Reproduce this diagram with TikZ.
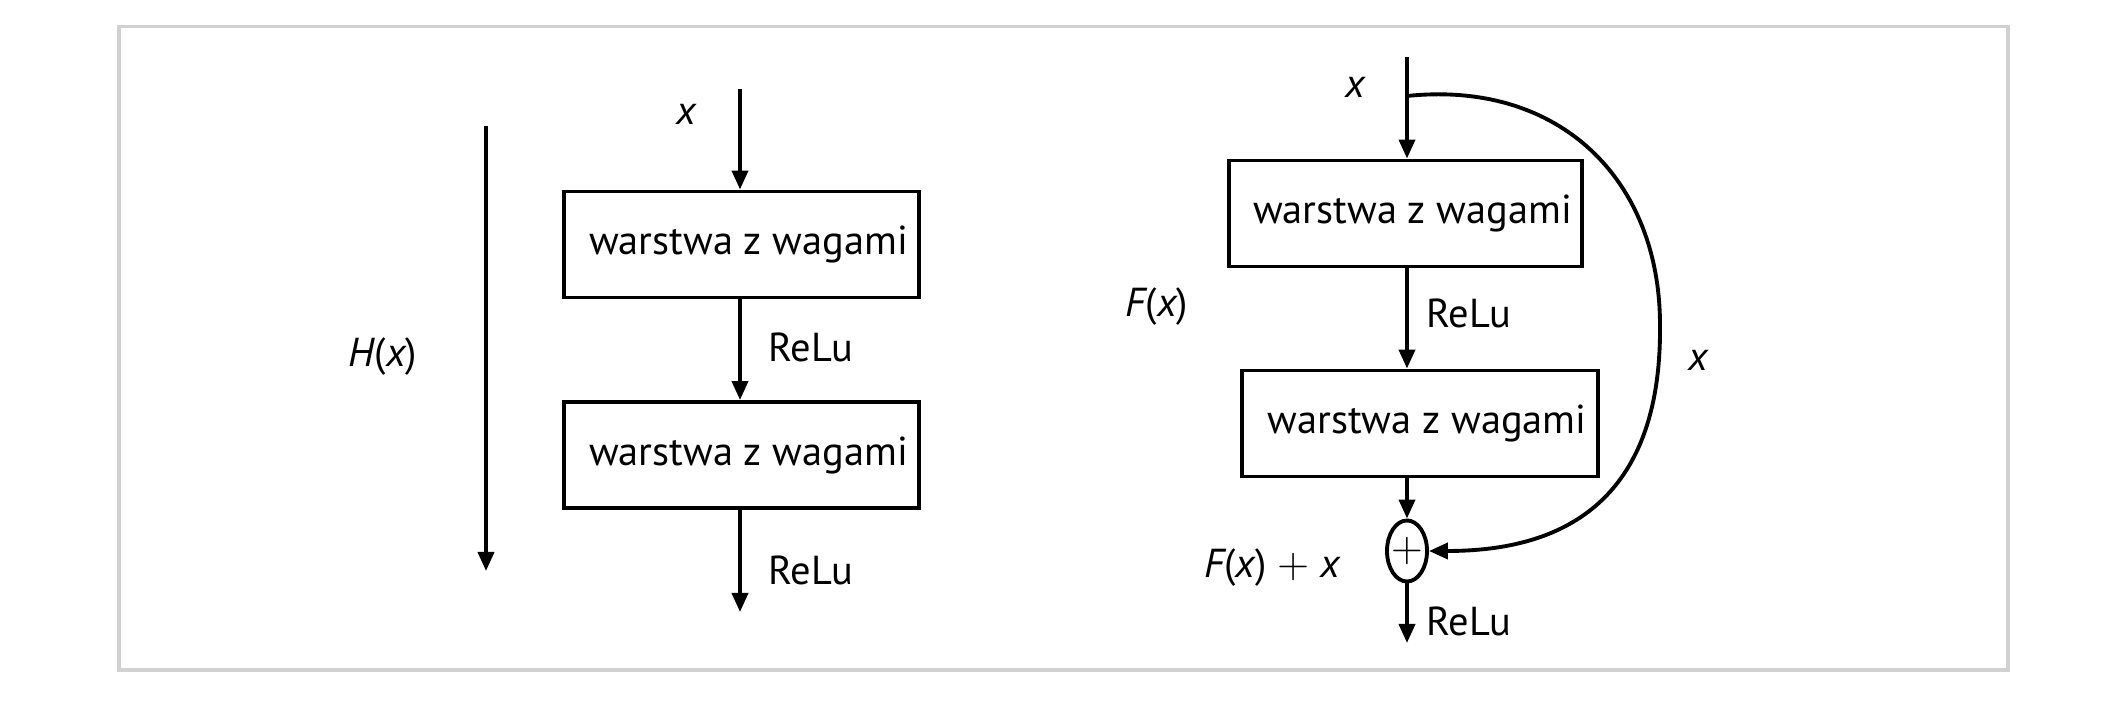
\documentclass[tikz,border=0pt]{standalone}
\usepackage{fontspec}
\setmainfont{PT Sans}
\usetikzlibrary{arrows.meta}
\usetikzlibrary{positioning}
\usetikzlibrary{shapes.geometric}
\tikzset{warstwa/.style = {draw, line width=1.1pt, minimum width=3.55cm,
                           minimum height=1.06cm, inner sep=0pt},
         strz/.style = {line width=1.1pt,
                        -{Triangle[length=0.19cm, width=0.16cm]}},
         opis/.style = {inner sep=0pt}}
\definecolor{ramka}{rgb}{0.82, 0.82, 0.82}

\begin{document}
\begin{tikzpicture}[x=0.01cm, y=-0.01cm, font=\fontsize{11.5}{13}\selectfont]
    \useasboundingbox (0, 0) rectangle (2117, 707);
    \draw [ramka, line width=1pt] (119, 26.5) rectangle (2008, 670);

    % zwykla siec
    \coordinate (lwe) at (740, 89);
    \node [warstwa] (l1) at (741.5, 244.5) {\hspace*{4pt}warstwa z wagami};
    \node [warstwa] (l2) at (741.5, 455) {\hspace*{4pt}warstwa z wagami};
    \coordinate (lwy) at (740, 612);
    \draw [strz] (lwe) -- (l1.north -| lwe);
    \draw [strz] (l1.south -| lwe) -- (l2.north -| lwe);
    \draw [strz] (l2.south -| lwe) -- (lwy);
    \node [opis] (lx) at (686, 114) {\itshape x};
    \node [opis, anchor=west] (lr1) at (768, 347) {ReLu};
    \node [opis, anchor=west] (lr2) at (768, 570) {ReLu};

    \coordinate (hg) at (486, 126);
    \coordinate (hd) at (486, 571);
    \draw [strz] (hg) -- (hd);
    \node [opis] (hx) at (383, 357) {\itshape H\upshape(\itshape x\upshape)};

    % blok rezydualny
    \coordinate (rwe) at (1407, 57);
    \coordinate (rskip) at (1407, 96);
    \node [warstwa, minimum width=3.53cm] (r1) at (1405.5, 213.5)
          {\hspace*{4pt}warstwa z wagami};
    \node [warstwa, minimum width=3.56cm] (r2) at (1420, 423.5)
          {\hspace*{4pt}warstwa z wagami};
    \node [ellipse, draw, line width=1.1pt, minimum width=0.4cm,
           minimum height=0.61cm, inner sep=0pt] (plus) at (1407, 551)
          {\makebox[0pt]{\fontsize{13}{13}\selectfont$+$}};
    \coordinate (rwy) at (1407, 643);

    \draw [strz] (rwe) -- (r1.north -| rwe);
    \draw [strz] (r1.south -| rwe) -- (r2.north -| rwe);
    \draw [strz] (r2.south -| rwe) -- (plus);
    \draw [strz] (plus) -- (rwy);
    \draw [strz] (rskip) .. controls (1560, 80) and (1660, 180) .. (1660, 325)
          .. controls (1662, 520) and (1540, 551) .. (plus.east);

    \node [opis] (rx) at (1355, 87) {\itshape x};
    \node [opis] (fx) at (1157, 307) {\itshape F\upshape(\itshape x\upshape)};
    \node [opis, anchor=west] (rr1) at (1426, 313) {ReLu};
    \node [opis, anchor=west] (rr2) at (1426, 621) {ReLu};
    \node [opis] (sx) at (1698, 360) {\itshape x};
    \node [opis] (fxx) at (1272, 568)
          {\itshape F\upshape(\itshape x\upshape)\ $+$\ \itshape x};
\end{tikzpicture}
\end{document}
